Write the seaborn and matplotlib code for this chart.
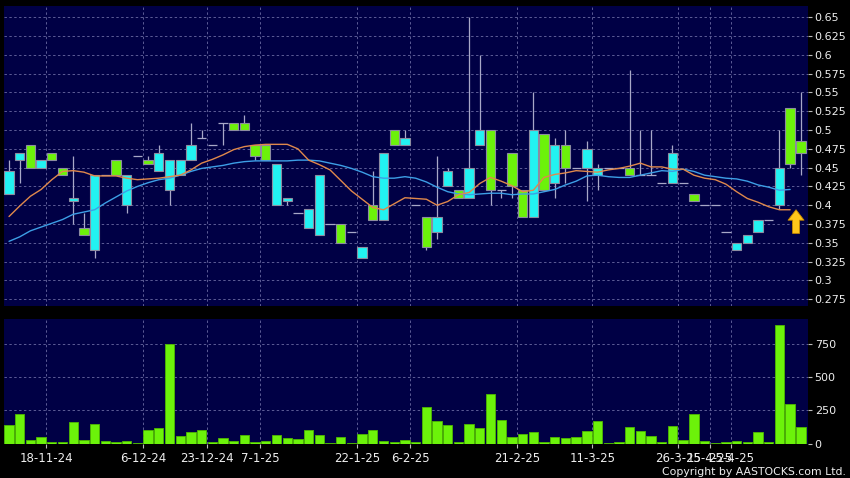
import numpy as np
import matplotlib
matplotlib.use("Agg")
import matplotlib.pyplot as plt
from matplotlib.ticker import FuncFormatter
import seaborn as sns

# daily candles (session index 0..74)
opens = [0.415, 0.46, 0.48, 0.45, 0.47, 0.45, 0.405, 0.37, 0.34, 0.44,
         0.46, 0.40, 0.465, 0.46, 0.445, 0.42, 0.44, 0.46, 0.49, 0.48,
         0.51, 0.51, 0.51, 0.48, 0.48, 0.40, 0.405, 0.39, 0.37, 0.36,
         0.375, 0.375, 0.365, 0.33, 0.40, 0.38, 0.50, 0.48, 0.40, 0.385,
         0.365, 0.425, 0.42, 0.41, 0.48, 0.50, 0.42, 0.47, 0.42, 0.385,
         0.495, 0.43, 0.48, 0.45, 0.45, 0.44, 0.45, 0.45, 0.45, 0.44,
         0.44, 0.43, 0.43, 0.43, 0.415, 0.40, 0.40, 0.365, 0.34, 0.35,
         0.365, 0.38, 0.40, 0.53, 0.485]
highs = [0.46, 0.47, 0.48, 0.46, 0.47, 0.45, 0.465, 0.39, 0.44, 0.44,
         0.46, 0.44, 0.465, 0.465, 0.48, 0.46, 0.46, 0.51, 0.50, 0.48,
         0.51, 0.51, 0.52, 0.48, 0.48, 0.455, 0.41, 0.39, 0.395, 0.44,
         0.375, 0.375, 0.365, 0.345, 0.445, 0.47, 0.50, 0.50, 0.40, 0.385,
         0.465, 0.45, 0.42, 0.65, 0.60, 0.50, 0.42, 0.47, 0.42, 0.55,
         0.495, 0.49, 0.50, 0.45, 0.485, 0.455, 0.45, 0.45, 0.58, 0.50,
         0.50, 0.43, 0.48, 0.43, 0.415, 0.40, 0.40, 0.365, 0.35, 0.36,
         0.38, 0.38, 0.50, 0.53, 0.55]
lows = [0.415, 0.43, 0.45, 0.45, 0.46, 0.44, 0.375, 0.36, 0.33, 0.44,
        0.44, 0.39, 0.465, 0.455, 0.445, 0.40, 0.44, 0.46, 0.49, 0.48,
        0.48, 0.50, 0.50, 0.46, 0.46, 0.40, 0.40, 0.39, 0.37, 0.36,
        0.375, 0.35, 0.365, 0.33, 0.38, 0.38, 0.48, 0.48, 0.40, 0.34,
        0.355, 0.425, 0.41, 0.41, 0.48, 0.40, 0.41, 0.41, 0.385, 0.385,
        0.42, 0.41, 0.43, 0.45, 0.405, 0.42, 0.45, 0.45, 0.44, 0.44,
        0.44, 0.43, 0.43, 0.43, 0.405, 0.40, 0.40, 0.365, 0.34, 0.35,
        0.365, 0.38, 0.395, 0.45, 0.44]
closes = [0.445, 0.47, 0.45, 0.46, 0.46, 0.44, 0.41, 0.36, 0.44, 0.44,
          0.44, 0.44, 0.465, 0.455, 0.47, 0.46, 0.46, 0.48, 0.49, 0.48,
          0.51, 0.50, 0.50, 0.465, 0.46, 0.455, 0.41, 0.39, 0.395, 0.44,
          0.375, 0.35, 0.365, 0.345, 0.38, 0.47, 0.48, 0.49, 0.40, 0.345,
          0.385, 0.445, 0.41, 0.45, 0.50, 0.42, 0.42, 0.425, 0.385, 0.50,
          0.42, 0.48, 0.45, 0.45, 0.475, 0.45, 0.45, 0.45, 0.44, 0.44,
          0.44, 0.43, 0.47, 0.43, 0.405, 0.40, 0.40, 0.365, 0.35, 0.36,
          0.38, 0.38, 0.45, 0.455, 0.47]
volume = [140, 220, 25, 50, 10, 10, 160, 30, 150, 20,
          15, 20, 3, 105, 120, 750, 60, 85, 100, 10,
          45, 20, 65, 15, 20, 65, 40, 35, 100, 65,
          3, 50, 2, 70, 100, 20, 15, 30, 10, 275,
          170, 140, 10, 145, 120, 370, 175, 50, 70, 85,
          15, 50, 40, 50, 95, 170, 5, 10, 125, 95,
          60, 10, 135, 25, 225, 20, 2, 10, 20, 15,
          85, 10, 890, 300, 125]

# moving averages as drawn (orange = short, blue = long)
ma_short = [0.385, 0.399, 0.412, 0.421, 0.434, 0.445, 0.446, 0.444, 0.439, 0.439,
            0.439, 0.436, 0.434, 0.435, 0.436, 0.438, 0.44, 0.447, 0.456, 0.461,
            0.467, 0.474, 0.478, 0.48, 0.481, 0.481, 0.481, 0.475, 0.46, 0.454,
            0.447, 0.433, 0.419, 0.408, 0.397, 0.394, 0.402, 0.41, 0.409, 0.408,
            0.40, 0.405, 0.414, 0.417, 0.429, 0.437, 0.432, 0.426, 0.418, 0.42,
            0.437, 0.441, 0.443, 0.446, 0.445, 0.444, 0.447, 0.449, 0.452, 0.456,
            0.451, 0.451, 0.448, 0.448, 0.44, 0.436, 0.434, 0.428, 0.418, 0.409,
            0.404, 0.398, 0.394, 0.394]
ma_long = [0.352, 0.358, 0.366, 0.371, 0.376, 0.381, 0.388, 0.391, 0.394, 0.403,
           0.411, 0.419, 0.425, 0.43, 0.434, 0.436, 0.44, 0.445, 0.449, 0.451,
           0.453, 0.456, 0.458, 0.459, 0.459, 0.459, 0.459, 0.46, 0.46, 0.459,
           0.456, 0.453, 0.449, 0.444, 0.438, 0.436, 0.436, 0.438, 0.436, 0.431,
           0.424, 0.418, 0.415, 0.414, 0.415, 0.416, 0.416, 0.414, 0.415, 0.415,
           0.418, 0.421, 0.427, 0.432, 0.439, 0.44, 0.438, 0.437, 0.437, 0.44,
           0.443, 0.446, 0.445, 0.448, 0.445, 0.44, 0.438, 0.436, 0.435, 0.432,
           0.427, 0.424, 0.42, 0.421]

date_pos = [3, 12, 18, 23, 32, 37, 47, 54, 62, 65, 67]
date_labels = ["18-11-24", "6-12-24", "23-12-24", "7-1-25", "22-1-25", "6-2-25",
               "21-2-25", "11-3-25", "26-3-25", "15-4-25", "25-4-25"]
price_ticks = [0.275, 0.3, 0.325, 0.35, 0.375, 0.4, 0.425, 0.45, 0.475, 0.5,
               0.525, 0.55, 0.575, 0.6, 0.625, 0.65]
vol_ticks = [0, 250, 500, 750]

NAVY = "#000045"
UP = "#22f2f2"
DOWN = "#6cf20a"
GRID = "#5c5c96"
TXT = "#eeeeee"

sns.set_theme(style="dark", rc={"axes.facecolor": NAVY, "figure.facecolor": "black"})
plt.rcParams['font.family'] = ['DejaVu Sans']

o = np.array(opens); c = np.array(closes)
h = np.array(highs); l = np.array(lows)
idx = np.arange(len(o))

fig = plt.figure(figsize=(8.5, 4.78), dpi=100, facecolor="black")
ax_p = fig.add_axes([4 / 850, 1 - 306 / 478, 803.7 / 850, 300 / 478])
ax_v = fig.add_axes([4 / 850, 1 - 443.7 / 478, 803.7 / 850, 124.7 / 478])

# ---- price panel
ax_p.vlines(idx, l, h, color="#a8a8c8", linewidth=0.9, zorder=2)
body = c != o
colors = np.where(c > o, UP, DOWN)
ax_p.bar(idx[body], np.abs(c - o)[body], bottom=np.minimum(o, c)[body],
         width=0.87, color=colors[body], edgecolor="#8c8ca0", linewidth=0.8, zorder=3)
flat = ~body
ax_p.hlines(o[flat], idx[flat] - 0.43, idx[flat] + 0.43, color="#a8a8c8",
            linewidth=0.9, zorder=3)

sns.lineplot(x=idx[:len(ma_long)], y=ma_long, ax=ax_p, color="#3d9fe6",
             linewidth=1.0, zorder=4)
sns.lineplot(x=idx[:len(ma_short)], y=ma_short, ax=ax_p, color="#e0894c",
             linewidth=1.0, zorder=5)

# signal arrow under the end of the short average
ax_p.annotate("", xy=(len(ma_short) - 0.45, ma_short[-1]),
              xytext=(0, -17), textcoords="offset points",
              arrowprops=dict(arrowstyle="simple,head_length=0.75,head_width=1.15,tail_width=0.5",
                              fc="#ffc61a", ec="#c98a00", lw=0.6,
                              shrinkA=0, shrinkB=0, mutation_scale=10),
              zorder=6)

ax_p.set_ylim(0.266, 0.665)
ax_p.set_yticks(price_ticks)
ax_p.yaxis.set_major_formatter(FuncFormatter(lambda v, p: f"{v:g}"))

# ---- volume panel
sns.barplot(x=idx, y=volume, ax=ax_v, color=DOWN, saturation=1, width=0.87,
            edgecolor="#4fb800", linewidth=0.6, errorbar=None, native_scale=True,
            zorder=3)
ax_v.set_ylim(0, 935)
ax_v.set_yticks(vol_ticks)

for ax in (ax_p, ax_v):
    ax.set_facecolor(NAVY)
    ax.set_xlim(-0.47, 74.64)
    ax.set_xticks(np.array(date_pos) + 0.5)
    ax.yaxis.tick_right()
    ax.set_xlabel("")
    ax.set_ylabel("")
    ax.grid(True, color=GRID, linestyle=(0, (2.5, 2.5)), linewidth=0.7, zorder=0)
    ax.set_axisbelow(True)
    for s in ax.spines.values():
        s.set_visible(False)
    ax.tick_params(axis="y", colors="#bbbbbb", labelcolor=TXT, labelsize=8,
                   length=3, width=0.8, pad=2, right=True, left=False)

ax_p.tick_params(axis="x", bottom=False, labelbottom=False)
ax_v.set_xticklabels(date_labels)
ax_v.tick_params(axis="x", colors="#bbbbbb", labelcolor=TXT, labelsize=8.5,
                 length=3, width=0.8, pad=3, bottom=True)

fig.text(846 / 850, 1 - 472 / 478, "Copyright by AASTOCKS.com Ltd.", color=TXT,
         fontsize=7.8, ha="right", va="center")

fig.savefig("out.png", dpi=100, facecolor="black")
